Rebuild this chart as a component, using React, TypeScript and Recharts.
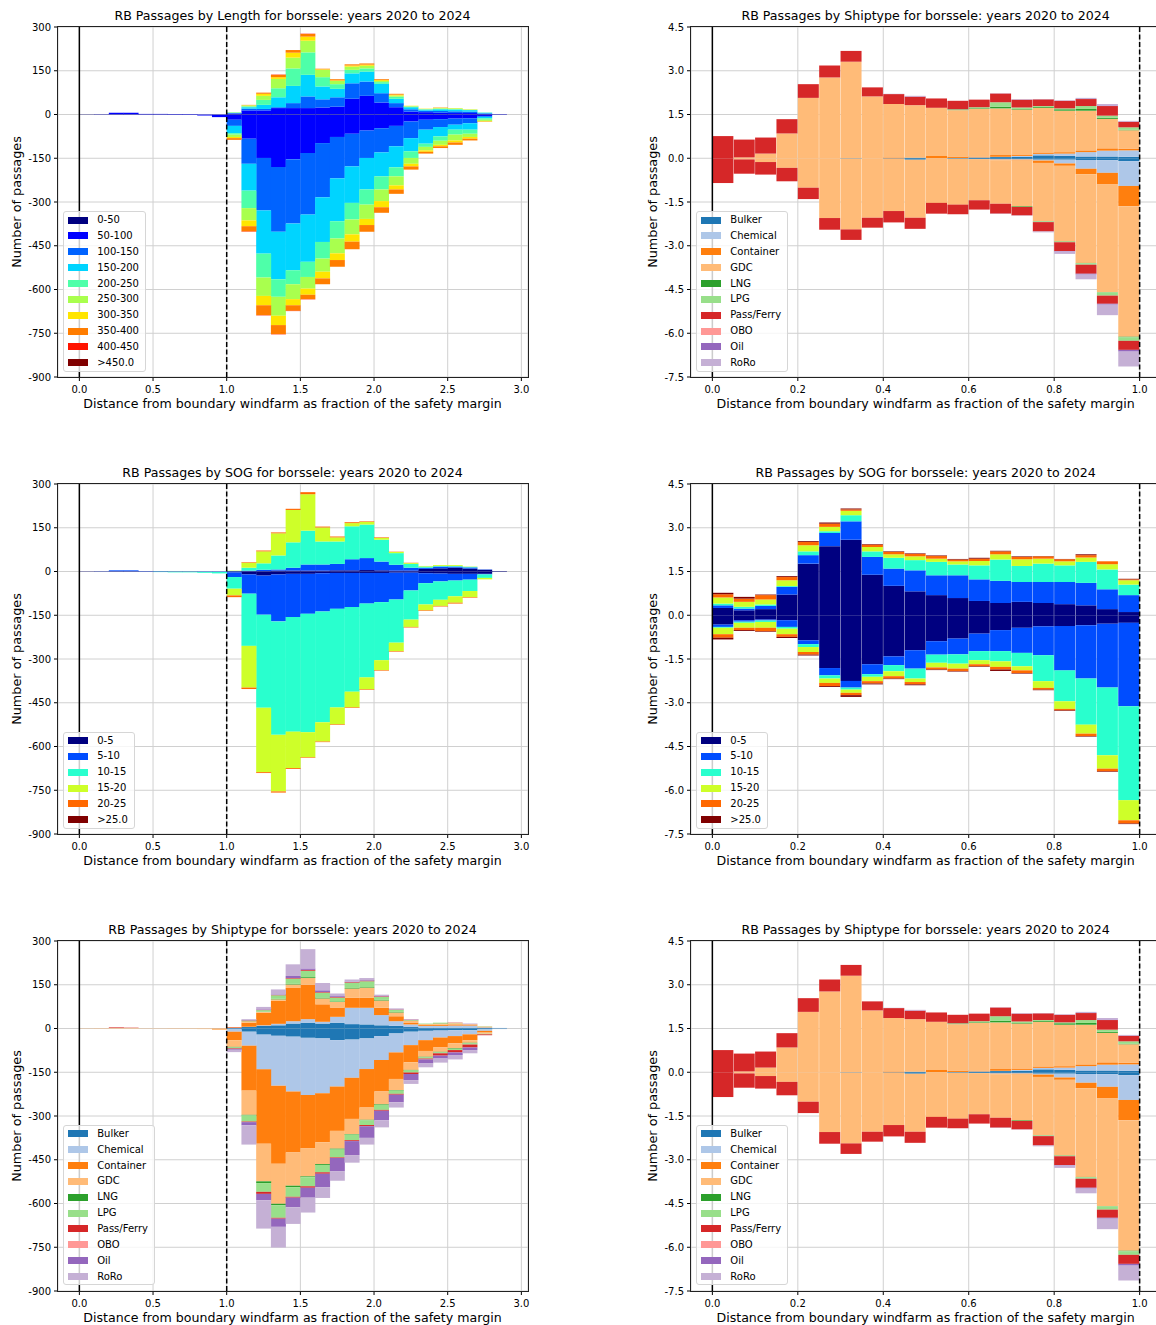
import { BarChart, Bar, XAxis, YAxis, CartesianGrid, ReferenceLine } from "recharts";

// ---- categories & colours ----
const LENGTH_CLASSES = ["0-50", "50-100", "100-150", "150-200", "200-250", "250-300", "300-350", "350-400", "400-450", ">450.0"];
const LENGTH_COLORS = ["#000080", "#0000ff", "#0063ff", "#00d4ff", "#4effa9", "#a9ff4e", "#ffe500", "#ff7d00", "#ff1400", "#800000"];

const SOG_CLASSES = ["0-5", "5-10", "10-15", "15-20", "20-25", ">25.0"];
const SOG_COLORS = ["#000080", "#004dff", "#29ffce", "#ceff29", "#ff6800", "#800000"];

const SHIP_TYPES = ["Bulker", "Chemical", "Container", "GDC", "LNG", "LPG", "Pass/Ferry", "OBO", "Oil", "RoRo"];
const SHIP_COLORS = ["#1f77b4", "#aec7e8", "#ff7f0e", "#ffbb78", "#2ca02c", "#98df8a", "#d62728", "#ff9896", "#9467bd", "#c5b0d5"];

// bin centres (bin width 0.1 on the left, 0.05 on the right)
const LEFT_BINS = [0.05, 0.15, 0.25, 0.35, 0.45, 0.55, 0.65, 0.75, 0.85, 0.95, 1.05, 1.15, 1.25, 1.35, 1.45, 1.55, 1.65, 1.75, 1.85, 1.95, 2.05, 2.15, 2.25, 2.35, 2.45, 2.55, 2.65, 2.75, 2.85];
const RIGHT_BINS = [0.025, 0.075, 0.125, 0.175, 0.225, 0.275, 0.325, 0.375, 0.425, 0.475, 0.525, 0.575, 0.625, 0.675, 0.725, 0.775, 0.825, 0.875, 0.925, 0.975];

const LEFT_X_TICKS = [0, 0.5, 1, 1.5, 2, 2.5, 3];
const RIGHT_X_TICKS = [0, 0.2, 0.4, 0.6, 0.8, 1];
const LEFT_Y_TICKS = [300, 150, 0, -150, -300, -450, -600, -750, -900];
const RIGHT_Y_TICKS = [4.5, 3, 1.5, 0, -1.5, -3, -4.5, -6, -7.5];

// ---- passages by length (left, top), one row per class; up = one side, down = other side ----
const lengthUp = [
  [0.5, 0.5, 1, 1, 0.5, 0.5, 0.5, 0.5, 0, 0, 1, 1, 1, 1, 1, 1, 1, 1, 1, 1, 1, 1, 1, 1, 1, 1, 1, 1, 0.5],
  [0, 0.5, 5, 5, 1.5, 1.5, 1, 0.5, 0, 0, 2, 13, 13, 21, 21, 21, 23, 26, 53, 63, 40, 24, 9, 7, 5, 4, 4, 1, 0.5],
  [0, 0, 0, 0, 0, 0, 0, 0, 0, 0, 2, 6, 5, 3, 17, 40, 28, 32, 53, 49, 32, 14, 8, 5, 6, 6, 5, 2, 0],
  [0, 0, 0, 0, 0, 0, 0, 0, 0, 0, 1, 5, 14, 34, 59, 74, 44, 29, 34, 34, 32, 15, 7, 4, 6, 6, 5, 2, 0],
  [0, 0, 0, 0, 0, 0, 0, 0, 0, 0, 1, 3, 17, 31, 60, 77, 32, 16, 12, 11, 6, 7, 2, 1, 2, 2, 1, 1, 0],
  [0, 0, 0, 0, 0, 0, 0, 0, 0, 0, 1, 3, 14, 32, 37, 40, 25, 11, 11, 9, 4, 4, 2, 1, 2, 2, 1, 0, 0],
  [0, 0, 0, 0, 0, 0, 0, 0, 0, 0, 0, 1, 7, 6, 17, 14, 2, 2, 4, 4, 3, 3, 1, 1, 1, 1, 1, 0, 0],
  [0, 0, 0, 0, 0, 0, 0, 0, 0, 0, 0, 1, 4, 8, 9, 9, 2, 4, 4, 4, 3, 3, 0, 0, 1, 0, 0, 0, 0],
  [0, 0, 0, 0, 0, 0, 0, 0, 0, 0, 0, 0, 0, 1, 0, 1, 0, 0, 0, 0, 0, 0, 0, 0, 0, 0, 0, 0, 0],
  [0, 0, 0, 0, 0, 0, 0, 0, 0, 0, 0, 0, 0, 0, 0, 0, 0, 0, 0, 0, 0, 0, 0, 0, 0, 0, 0, 0, 0],
];
const lengthDown = [
  [0.5, 0.5, 0.5, 0.5, 0.5, 0.5, 0.5, 0.5, 0.5, 1, 1, 1, 1, 1, 1, 1, 1, 1, 1, 1, 1, 1, 1, 1, 1, 1, 1, 1, 0.5],
  [0, 0, 0, 0, 0, 0, 0.5, 1, 3, 8, 17, 82, 148, 179, 152, 131, 97, 76, 65, 54, 46, 38, 23, 17, 15, 13, 12, 4, 0.5],
  [0, 0, 0, 0, 0, 0, 0, 0, 0, 0, 21, 86, 180, 222, 221, 211, 186, 142, 112, 94, 83, 70, 57, 34, 27, 21, 17, 3, 0],
  [0, 0, 0, 0, 0, 0, 0, 0, 0, 0, 25, 92, 148, 163, 160, 162, 153, 147, 125, 108, 82, 72, 45, 48, 32, 17, 22, 5, 0],
  [0, 0, 0, 0, 0, 0, 0, 0, 0, 0, 5, 60, 82, 60, 48, 52, 57, 59, 57, 52, 45, 31, 23, 11, 15, 17, 14, 5, 0],
  [0, 0, 0, 0, 0, 0, 0, 0, 0, 0, 8, 42, 63, 65, 51, 40, 45, 51, 51, 49, 40, 31, 20, 12, 14, 20, 11, 4, 0],
  [0, 0, 0, 0, 0, 0, 0, 0, 0, 0, 4, 20, 32, 32, 21, 21, 23, 23, 25, 21, 21, 14, 9, 5, 5, 7, 6, 2, 0],
  [0, 0, 0, 0, 0, 0, 0, 0, 0, 0, 6, 18, 34, 31, 19, 15, 20, 23, 26, 23, 19, 15, 11, 6, 6, 8, 6, 1, 0],
  [0, 0, 0, 0, 0, 0, 0, 0, 0, 0, 0, 1, 1, 1, 1, 1, 0, 0, 0, 0, 0, 0, 0, 0, 0, 0, 0, 0, 0],
  [0, 0, 0, 0, 0, 0, 0, 0, 0, 0, 0, 0, 0, 0, 0, 0, 0, 0, 0, 0, 0, 0, 0, 0, 0, 0, 0, 0, 0],
];

// ---- passages by SOG (left, middle) ----
const sogLeftUp = [
  [0.5, 0.5, 1, 1, 0.5, 0.5, 0.5, 0.5, 0, 0, 0, 1, 1, 3, 3, 3, 3, 4, 4, 5, 4, 3, 3, 9, 11, 13, 10, 6, 1],
  [0, 0.5, 3, 3, 1, 0.5, 0, 0, 0, 0, 1, 2, 5, 4, 10, 21, 21, 22, 38, 41, 30, 20, 10, 4, 6, 4, 4, 1, 0],
  [0, 0, 0, 0, 0, 0, 0, 0, 0, 0, 1, 10, 22, 48, 87, 116, 79, 77, 113, 115, 75, 40, 13, 4, 2, 2, 2, 0, 0],
  [0, 0, 0, 0, 0, 0, 0, 0, 0, 0, 1, 17, 41, 76, 111, 125, 48, 14, 11, 9, 6, 4, 3, 2, 3, 3, 1, 0, 0],
  [0, 0, 0, 0, 0, 0, 0, 0, 0, 0, 0, 2, 3, 3, 4, 7, 3, 3, 3, 2, 2, 1, 1, 0, 0, 0, 0, 0, 0],
  [0, 0, 0, 0, 0, 0, 0, 0, 0, 0, 0, 0, 0, 0, 0, 0, 0, 0, 0, 0, 0, 0, 0, 0, 0, 0, 0, 0, 0],
];
const sogLeftDown = [
  [0.5, 0.5, 0.5, 0.5, 0.5, 0.5, 0.5, 0.5, 0.5, 0.5, 3, 10, 14, 10, 8, 8, 6, 5, 5, 5, 5, 4, 4, 6, 7, 8, 8, 8, 1],
  [0, 0, 0, 0, 0, 0.5, 0.5, 0.5, 1, 1, 16, 66, 134, 161, 148, 137, 131, 123, 117, 105, 100, 92, 61, 34, 27, 23, 20, 2, 0],
  [0, 0, 0, 0, 0, 1, 2, 2, 3, 5, 40, 179, 319, 389, 393, 406, 380, 338, 290, 253, 199, 148, 100, 73, 63, 54, 39, 12, 0],
  [0, 0, 0, 0, 0, 0, 0, 0, 0, 0, 23, 143, 221, 194, 125, 86, 66, 58, 54, 41, 34, 29, 25, 20, 21, 22, 21, 5, 0],
  [0, 0, 0, 0, 0, 0, 0, 0, 0, 0, 6, 5, 3, 4, 3, 2, 2, 2, 2, 2, 2, 2, 2, 2, 2, 3, 2, 0, 0],
  [0, 0, 0, 0, 0, 0, 0, 0, 0, 0, 0, 0, 0, 0, 0, 0, 0, 0, 0, 0, 0, 0, 0, 0, 0, 0, 0, 0, 0],
];

// ---- passages by ship type (left, bottom) ----
const shipLeftUp = [
  [0, 0, 0, 0, 0, 0, 0, 0, 0, 0, 1, 5, 9, 11, 17, 20, 17, 20, 15, 14, 11, 9, 5, 3, 3, 3, 3, 2, 1],
  [0, 0, 0, 0, 0, 0, 0, 0, 0, 0, 1, 1, 2, 5, 8, 12, 6, 20, 56, 57, 35, 16, 9, 6, 6, 7, 7, 2, 1],
  [0, 0, 0, 0, 0, 0, 0, 0, 0, 0, 2, 14, 43, 79, 114, 118, 60, 32, 34, 34, 25, 17, 5, 3, 4, 4, 3, 1, 0],
  [0.5, 1, 2, 2, 1, 1, 1, 0.5, 0, 0, 0, 5, 3, 5, 12, 23, 20, 19, 32, 35, 25, 13, 8, 3, 4, 4, 2, 2, 0],
  [0, 0, 0, 0, 0, 0, 0, 0, 0, 0, 0, 1, 1, 2, 2, 3, 3, 2, 2, 2, 3, 2, 1, 0, 1, 0, 0, 0, 0],
  [0, 0, 0, 0, 0, 0, 0, 0, 0, 0, 0, 1, 5, 12, 18, 22, 17, 13, 18, 20, 9, 7, 1, 2, 2, 1, 0, 1, 0],
  [0, 0, 2, 1, 0, 0, 0, 0, 0, 0, 1, 1, 1, 1, 2, 3, 2, 2, 2, 2, 2, 1, 1, 0, 0, 1, 0, 0, 0],
  [0, 0, 0, 0, 0, 0, 0, 0, 0, 0, 0, 0, 0, 0, 0, 0, 0, 0, 0, 0, 0, 0, 0, 0, 0, 0, 0, 0, 0],
  [0, 0, 0, 0, 0, 0, 0, 0, 0, 0, 0, 1, 2, 2, 7, 5, 6, 3, 2, 2, 1, 1, 1, 0, 0, 0, 1, 0, 0],
  [0, 0, 0, 0, 0, 0, 0, 0, 0, 0, 0, 3, 8, 17, 40, 66, 25, 9, 7, 7, 5, 3, 1, 0, 0, 0, 1, 0, 0],
];
const shipLeftDown = [
  [0, 0, 0, 0, 0, 0, 0, 0, 0, 0, 3, 11, 21, 25, 28, 32, 34, 40, 38, 34, 26, 17, 11, 8, 7, 6, 6, 3, 1],
  [0, 0, 0, 0, 0, 0, 0, 0, 0, 0, 8, 48, 119, 171, 188, 196, 188, 159, 131, 105, 82, 65, 46, 32, 24, 20, 14, 5, 1],
  [0, 0, 0, 0, 0, 0, 0, 0, 0, 1, 29, 154, 255, 268, 209, 182, 168, 152, 141, 132, 108, 91, 59, 37, 34, 25, 20, 6, 0],
  [0.5, 0.5, 0, 0, 0, 0, 0.5, 1, 2, 4, 23, 83, 129, 137, 114, 97, 75, 61, 52, 42, 44, 38, 26, 20, 15, 17, 9, 4, 0],
  [0, 0, 0, 0, 0, 0, 0, 0, 0, 0, 2, 2, 6, 5, 5, 3, 3, 3, 2, 2, 2, 2, 2, 2, 2, 2, 2, 0, 0],
  [0, 0, 0, 0, 0, 0, 0, 0, 0, 0, 3, 21, 30, 43, 33, 31, 25, 27, 19, 16, 17, 11, 7, 4, 3, 4, 4, 2, 0],
  [0, 0, 0, 0, 0, 0, 0, 0, 0, 0, 2, 2, 7, 3, 3, 5, 5, 2, 3, 4, 3, 3, 5, 3, 8, 8, 10, 3, 0],
  [0, 0, 0, 0, 0, 0, 0, 0, 0, 0, 0, 0, 0, 0, 0, 0, 0, 0, 0, 0, 0, 0, 0, 0, 0, 0, 0, 0, 0],
  [0, 0, 0, 0, 0, 0, 0, 0, 0, 0, 3, 11, 22, 28, 33, 34, 46, 46, 48, 40, 33, 26, 21, 14, 10, 9, 9, 0, 0],
  [0, 0, 0, 0, 0, 0, 0, 0, 0, 0, 8, 66, 97, 71, 57, 51, 37, 32, 26, 23, 24, 18, 13, 13, 14, 15, 11, 0, 0],
];

// ---- ship type, zoomed on 0..1 (right, top and bottom) ----
const shipRightUp = [
  [0, 0, 0, 0, 0, 0, 0.01, 0, 0.01, 0.02, 0, 0, 0.02, 0.04, 0.05, 0.1, 0.08, 0.06, 0.06, 0.05],
  [0, 0, 0, 0, 0, 0, 0, 0, 0, 0, 0, 0.01, 0.01, 0.01, 0.03, 0.05, 0.08, 0.15, 0.2, 0.22],
  [0, 0, 0, 0, 0, 0, 0, 0, 0.02, 0, 0.08, 0.05, 0.03, 0.06, 0.05, 0.05, 0.05, 0.06, 0.08, 0.05],
  [0, 0.03, 0.16, 0.85, 2.07, 2.77, 3.3, 2.12, 1.83, 1.8, 1.65, 1.59, 1.64, 1.6, 1.54, 1.53, 1.42, 1.36, 1.01, 0.64],
  [0, 0, 0, 0, 0, 0, 0, 0, 0, 0, 0, 0.02, 0.02, 0.06, 0.02, 0.03, 0.05, 0.06, 0.04, 0.02],
  [0, 0, 0, 0, 0, 0, 0, 0, 0, 0, 0, 0.01, 0.03, 0.15, 0.05, 0.03, 0.03, 0.1, 0.07, 0.08],
  [0.76, 0.61, 0.55, 0.49, 0.47, 0.41, 0.37, 0.31, 0.34, 0.29, 0.32, 0.29, 0.26, 0.3, 0.27, 0.23, 0.26, 0.24, 0.33, 0.19],
  [0, 0, 0, 0, 0, 0, 0, 0, 0, 0, 0, 0, 0, 0, 0, 0, 0, 0, 0, 0],
  [0, 0, 0, 0, 0, 0, 0, 0, 0, 0.01, 0, 0, 0, 0, 0, 0, 0, 0, 0.02, 0.01],
  [0, 0, 0, 0, 0, 0, 0, 0, 0.01, 0.02, 0, 0, 0, 0.01, 0.02, 0.01, 0.02, 0.04, 0.05, 0.02],
];
const shipRightDown = [
  [0, 0, 0, 0, 0, 0, 0.01, 0, 0.01, 0.05, 0, 0.02, 0.03, 0.03, 0.03, 0.05, 0.05, 0.06, 0.07, 0.1],
  [0, 0, 0, 0, 0, 0, 0, 0, 0, 0, 0, 0, 0, 0.02, 0.02, 0.03, 0.13, 0.3, 0.43, 0.85],
  [0, 0, 0, 0, 0, 0, 0, 0, 0.01, 0, 0, 0, 0, 0.02, 0.03, 0.08, 0.08, 0.19, 0.4, 0.7],
  [0, 0.04, 0.13, 0.33, 1.01, 2.05, 2.43, 2.04, 1.79, 1.99, 1.53, 1.57, 1.41, 1.49, 1.57, 2.0, 2.59, 3.04, 3.69, 4.47],
  [0, 0, 0, 0, 0, 0, 0, 0, 0, 0, 0, 0, 0, 0, 0.02, 0.01, 0.01, 0.01, 0.01, 0.02],
  [0, 0, 0, 0, 0, 0, 0, 0, 0, 0, 0, 0, 0, 0, 0, 0.02, 0.02, 0.05, 0.11, 0.12],
  [0.85, 0.49, 0.43, 0.46, 0.39, 0.4, 0.36, 0.34, 0.39, 0.38, 0.37, 0.33, 0.32, 0.34, 0.29, 0.32, 0.3, 0.31, 0.28, 0.31],
  [0, 0, 0, 0, 0, 0, 0, 0, 0, 0, 0, 0, 0, 0, 0, 0, 0, 0, 0, 0],
  [0, 0, 0, 0, 0, 0, 0, 0, 0, 0, 0, 0, 0, 0, 0, 0, 0.02, 0.03, 0.03, 0.06],
  [0, 0, 0, 0, 0, 0, 0, 0, 0, 0, 0, 0, 0, 0.01, 0.01, 0.03, 0.08, 0.16, 0.36, 0.51],
];

// ---- SOG, zoomed on 0..1 (right, middle) ----
const sogRightUp = [
  [0.25, 0.17, 0.21, 0.71, 1.77, 2.37, 2.59, 1.39, 1.01, 0.82, 0.69, 0.59, 0.49, 0.42, 0.46, 0.42, 0.38, 0.34, 0.21, 0.11],
  [0.09, 0.06, 0.11, 0.26, 0.29, 0.45, 0.63, 0.61, 0.59, 0.72, 0.68, 0.78, 0.74, 0.76, 0.68, 0.72, 0.76, 0.77, 0.68, 0.58],
  [0.06, 0.06, 0.05, 0.03, 0.13, 0.06, 0.21, 0.19, 0.37, 0.35, 0.46, 0.37, 0.48, 0.73, 0.55, 0.63, 0.57, 0.72, 0.68, 0.36],
  [0.21, 0.17, 0.17, 0.2, 0.21, 0.15, 0.15, 0.15, 0.12, 0.13, 0.11, 0.11, 0.15, 0.18, 0.23, 0.17, 0.14, 0.15, 0.18, 0.15],
  [0.11, 0.11, 0.15, 0.11, 0.11, 0.11, 0.05, 0.08, 0.08, 0.08, 0.09, 0.06, 0.08, 0.1, 0.08, 0.08, 0.07, 0.08, 0.1, 0.03],
  [0.05, 0.06, 0.02, 0.03, 0.03, 0.04, 0.03, 0.02, 0.02, 0.02, 0.02, 0.02, 0.03, 0.02, 0.02, 0.01, 0.01, 0.03, 0, 0.02],
];
const sogRightDown = [
  [0.32, 0.17, 0.15, 0.17, 0.86, 1.81, 2.25, 1.68, 1.41, 1.2, 0.89, 0.8, 0.63, 0.51, 0.43, 0.38, 0.37, 0.34, 0.29, 0.26],
  [0.08, 0.05, 0.03, 0.23, 0.13, 0.25, 0.23, 0.34, 0.3, 0.63, 0.46, 0.54, 0.6, 0.72, 0.86, 0.99, 1.52, 1.83, 2.19, 2.86],
  [0.03, 0.04, 0.05, 0.06, 0.1, 0.11, 0.07, 0.09, 0.21, 0.34, 0.28, 0.32, 0.31, 0.35, 0.46, 0.89, 1.06, 1.58, 2.32, 3.22],
  [0.22, 0.17, 0.2, 0.19, 0.17, 0.15, 0.11, 0.15, 0.17, 0.12, 0.16, 0.17, 0.14, 0.19, 0.14, 0.23, 0.26, 0.31, 0.46, 0.69],
  [0.12, 0.08, 0.12, 0.09, 0.09, 0.11, 0.08, 0.08, 0.08, 0.08, 0.07, 0.08, 0.07, 0.09, 0.09, 0.06, 0.05, 0.08, 0.09, 0.11],
  [0.06, 0.03, 0.02, 0.04, 0.03, 0.03, 0.06, 0.03, 0.02, 0.03, 0.02, 0.02, 0.02, 0.05, 0.02, 0.02, 0.02, 0.02, 0.02, 0.02],
];

const FONT = "'DejaVu Sans', sans-serif";
const X_LABEL = "Distance from boundary windfarm as fraction of the safety margin";
const Y_LABEL = "Number of passages";

// one row per bin: u<k> goes up from zero, d<k> goes down
function buildRows(bins: number[], up: number[][], down: number[][]) {
  return bins.map((x, i) => {
    const row: Record<string, number> = { x };
    up.forEach((s, k) => (row["u" + k] = s[i]));
    down.forEach((s, k) => (row["d" + k] = -s[i]));
    return row;
  });
}

function LegendBox({ left, bottom, names, colors }: { left: number; bottom: number; names: string[]; colors: string[] }) {
  const rowH = 15.86;
  const h = names.length * rowH + 2;
  return (
    <div
      style={{
        position: "absolute",
        left,
        top: bottom - h,
        height: h,
        boxSizing: "border-box",
        border: "1px solid #d6d6d6",
        borderRadius: 3,
        background: "rgba(255,255,255,0.8)",
        paddingRight: 6,
      }}
    >
      {names.map((n, k) => (
        <div key={n} style={{ display: "flex", alignItems: "center", height: rowH }}>
          <div style={{ width: 20.7, height: 7, marginLeft: 3.5, background: colors[k] }} />
          <span style={{ marginLeft: 9, fontSize: 10, lineHeight: "12px", color: "#000", whiteSpace: "nowrap" }}>{n}</span>
        </div>
      ))}
    </div>
  );
}

interface PanelProps {
  plotLeft: number;
  plotTop: number;
  title: string;
  bins: number[];
  up: number[][];
  down: number[][];
  names: string[];
  colors: string[];
  right?: boolean;
}

function Panel({ plotLeft, plotTop, title, bins, up, down, names, colors, right }: PanelProps) {
  const plotW = 470;
  const plotH = 350;
  const yAxisW = 50;
  const rows = buildRows(bins, up, down);
  const xDomain = right ? [-0.05, 1.05] : [-0.145, 3.045];
  const xTicks = right ? RIGHT_X_TICKS : LEFT_X_TICKS;
  const yDomain = right ? [-7.5, 4.5] : [-900, 300];
  const yTicks = right ? RIGHT_Y_TICKS : LEFT_Y_TICKS;
  const tickStyle = { fontSize: 10, fill: "#000", fontFamily: FONT };
  const plotBottom = plotTop + plotH;
  const centerX = plotLeft + plotW / 2;

  return (
    <>
      <div style={{ position: "absolute", left: plotLeft - yAxisW, top: plotTop - 10 }}>
        <BarChart
          width={plotW + yAxisW + 10}
          height={plotH + 40}
          data={rows}
          margin={{ top: 10, right: 10, left: 0, bottom: 0 }}
          stackOffset="sign"
          barCategoryGap={0}
          barGap={0}
        >
          <CartesianGrid stroke="#d0d0d0" strokeWidth={1} />
          <XAxis
            dataKey="x"
            type="number"
            domain={xDomain}
            ticks={xTicks}
            interval={0}
            allowDataOverflow
            height={30}
            axisLine={false}
            tickLine={{ stroke: "#000" }}
            tickSize={4}
            tickMargin={5}
            tick={tickStyle}
            tickFormatter={(v: number) => v.toFixed(1)}
          />
          <YAxis
            type="number"
            domain={yDomain}
            ticks={yTicks}
            interval={0}
            allowDataOverflow
            width={yAxisW}
            axisLine={false}
            tickLine={{ stroke: "#000" }}
            tickSize={4}
            tickMargin={3}
            tick={tickStyle}
            tickFormatter={(v: number) => (right ? v.toFixed(1) : String(v))}
          />
          {names.map((n, k) => (
            <Bar key={"u" + n} dataKey={"u" + k} stackId="s" fill={colors[k]} isAnimationActive={false} />
          ))}
          {names.map((n, k) => (
            <Bar key={"d" + n} dataKey={"d" + k} stackId="s" fill={colors[k]} isAnimationActive={false} />
          ))}
          <ReferenceLine x={0} stroke="#000" strokeWidth={1.5} />
          <ReferenceLine x={1} stroke="#000" strokeWidth={1.5} strokeDasharray="5 2.5" />
        </BarChart>
      </div>
      {/* axes frame */}
      <div
        style={{
          position: "absolute",
          left: plotLeft - 0.5,
          top: plotTop - 0.5,
          width: plotW,
          height: plotH,
          border: "1px solid #222",
          pointerEvents: "none",
        }}
      />
      <div
        style={{
          position: "absolute",
          left: centerX - 250,
          width: 500,
          top: plotTop - 18.5,
          lineHeight: "15px",
          fontSize: 12.6,
          textAlign: "center",
          whiteSpace: "nowrap",
        }}
      >
        {title}
      </div>
      <div
        style={{
          position: "absolute",
          left: centerX - 250,
          width: 500,
          top: plotBottom + 19,
          lineHeight: "15px",
          fontSize: 12.6,
          textAlign: "center",
          whiteSpace: "nowrap",
        }}
      >
        {X_LABEL}
      </div>
      <div
        style={{
          position: "absolute",
          left: plotLeft - (right ? 38.5 : 41.5),
          top: plotTop + plotH / 2,
          transform: "translate(-50%, -50%) rotate(-90deg)",
          fontSize: 12.8,
          lineHeight: "15px",
          whiteSpace: "nowrap",
        }}
      >
        {Y_LABEL}
      </div>
      <LegendBox left={plotLeft + 5.5} bottom={plotBottom - 5} names={names} colors={colors} />
    </>
  );
}

export default function App() {
  const rowTops = [26.8, 483.8, 940.5];
  const leftX = 57.5;
  const rightX = 690.6;
  return (
    <div
      style={{
        position: "absolute",
        left: 0,
        top: 0,
        width: 1156,
        height: 1325,
        overflow: "hidden",
        background: "#fff",
        fontFamily: FONT,
        color: "#000",
      }}
    >
      <Panel
        plotLeft={leftX}
        plotTop={rowTops[0]}
        title="RB Passages by Length for borssele: years 2020 to 2024"
        bins={LEFT_BINS}
        up={lengthUp}
        down={lengthDown}
        names={LENGTH_CLASSES}
        colors={LENGTH_COLORS}
      />
      <Panel
        plotLeft={rightX}
        plotTop={rowTops[0]}
        title="RB Passages by Shiptype for borssele: years 2020 to 2024"
        bins={RIGHT_BINS}
        up={shipRightUp}
        down={shipRightDown}
        names={SHIP_TYPES}
        colors={SHIP_COLORS}
        right
      />
      <Panel
        plotLeft={leftX}
        plotTop={rowTops[1]}
        title="RB Passages by SOG for borssele: years 2020 to 2024"
        bins={LEFT_BINS}
        up={sogLeftUp}
        down={sogLeftDown}
        names={SOG_CLASSES}
        colors={SOG_COLORS}
      />
      <Panel
        plotLeft={rightX}
        plotTop={rowTops[1]}
        title="RB Passages by SOG for borssele: years 2020 to 2024"
        bins={RIGHT_BINS}
        up={sogRightUp}
        down={sogRightDown}
        names={SOG_CLASSES}
        colors={SOG_COLORS}
        right
      />
      <Panel
        plotLeft={leftX}
        plotTop={rowTops[2]}
        title="RB Passages by Shiptype for borssele: years 2020 to 2024"
        bins={LEFT_BINS}
        up={shipLeftUp}
        down={shipLeftDown}
        names={SHIP_TYPES}
        colors={SHIP_COLORS}
      />
      <Panel
        plotLeft={rightX}
        plotTop={rowTops[2]}
        title="RB Passages by Shiptype for borssele: years 2020 to 2024"
        bins={RIGHT_BINS}
        up={shipRightUp}
        down={shipRightDown}
        names={SHIP_TYPES}
        colors={SHIP_COLORS}
        right
      />
    </div>
  );
}
